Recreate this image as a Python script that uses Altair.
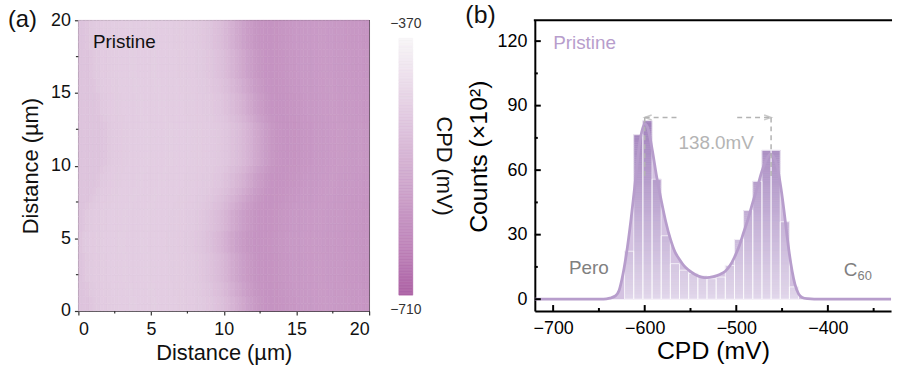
import altair as alt
import pandas as pd

FONT = "Liberation Sans"

# ---------------- (a) CPD map ----------------
MAP_COL_UM = 0.25      # column width of the map grid (µm)
MAP_ROW_UM = 0.5       # row height of the map grid (µm)
PROFILE_EDGE_UM = 10.0  # boundary position the row profile is written for

# CPD (mV) across one scan line, 0.25 µm per column
cpd_row_profile = [
    -484, -479, -474, -471, -469, -468, -467, -466,
    -465, -464, -463, -463, -462, -462, -463, -463,
    -464, -463, -462, -462, -463, -464, -464, -465,
    -465, -466, -466, -467, -468, -469, -470, -472,
    -474, -477, -481, -486, -492, -499, -507, -516,
    -526, -537, -549, -561, -573, -583, -591, -598,
    -603, -606, -608, -609, -608, -607, -605, -603,
    -601, -599, -597, -596, -595, -594, -593, -592,
    -592, -591, -591, -592, -593, -594, -595, -596,
    -597, -598, -600, -601, -602, -603, -604, -605,
]

# position of the Pero / C60 boundary on each scan line (µm), bottom to top
boundary_um = [
    10.4, 10.4, 10.3, 10.2, 10.1, 10.0, 9.9, 9.9,
    9.8, 9.8, 9.8, 9.9, 10.0, 10.1, 10.3, 10.5,
    10.7, 10.9, 11.1, 11.3, 11.4, 11.5, 11.6, 11.6,
    11.6, 11.5, 11.3, 11.1, 11.0, 10.9, 10.8, 10.7,
    10.6, 10.5, 10.4, 10.4, 10.3, 10.3, 10.2, 10.2,
]

cpd_stops = [-710, -650, -600, -540, -480, -430, -370]
cpd_colors = ["#ad62a5", "#bd82b8", "#c797c4", "#d3afd1",
              "#dfc6de", "#ebdcea", "#f7f5f7"]
map_ticks = [0, 5, 10, 15, 20]
map_minor = [2.5, 7.5, 12.5, 17.5]

# ---------------- (b) CPD histogram ----------------
bin_edges = list(range(-622, -431, 10))
counts = [22.3, 76.5, 83.0, 55.8, 29.5, 16.5, 13.5, 12.0, 10.8, 9.5,
          10.3, 15.7, 27.7, 41.2, 54.8, 69.2, 69.2, 36.0, 5.7]

fit_cpd = [-720, -645, -638, -632, -628, -625, -620, -615, -611, -605,
           -600, -597, -592, -587, -582, -577, -572, -567, -562, -557,
           -552, -545, -538, -532, -525, -518, -512, -507, -502, -497,
           -492, -487, -482, -477, -472, -467, -463, -459, -455, -451,
           -448, -445, -442, -439, -436, -432, -428, -422, -415, -331]
fit_counts = [0, 0, 0.5, 1.5, 4, 9, 21, 37, 52, 74,
              81.5, 80, 70, 57, 46, 36, 28, 22, 18.5, 15.5,
              13.5, 11.5, 10.3, 10, 10.5, 11.5, 13, 15.5, 19.5, 24.5,
              31, 37.5, 45, 52, 59.5, 65, 67.5, 66, 61, 51,
              41.5, 31, 21, 13, 7, 2.5, 0.8, 0.2, 0, 0]

peak_left = -600.0
peak_right = -462.0
guide_level = 84.5
guide_bottom = 57.0
cpd_ticks = [-700, -600, -500, -400]
cpd_minor = [-650, -550, -450, -350]
count_ticks = [0, 30, 60, 90, 120]
count_minor = [15, 45, 75, 105]

# ---------------- layout ----------------
W_A = 293
H = 293
W_BAR = 14
W_GAP = 63
W_B = 359

# ================= panel (a) =================
cells = []
n_cols = len(cpd_row_profile)
for r, b in enumerate(boundary_um):
    shift = round((b - PROFILE_EDGE_UM) / MAP_COL_UM)
    for c in range(n_cols):
        src = min(max(c - shift, 0), n_cols - 1)
        cells.append({
            "x0": c * MAP_COL_UM, "x1": (c + 1) * MAP_COL_UM,
            "y0": r * MAP_ROW_UM, "y1": (r + 1) * MAP_ROW_UM,
            "cpd": cpd_row_profile[src],
        })
map_df = pd.DataFrame(cells)

cscale = alt.Scale(domain=cpd_stops, range=cpd_colors, interpolate="rgb")
xa = alt.Scale(domain=[0, 20], nice=False)
ya = alt.Scale(domain=[0, 20], nice=False)

AX_A = dict(labelFontSize=18, titleFontSize=22, labelColor="#111",
            titleColor="#111", domainColor="#333", tickColor="#333",
            domainWidth=1.2, tickWidth=1.2, grid=False)

ax_xa = alt.Axis(values=map_ticks, format="d", title="Distance (µm)", orient="bottom",
                 tickSize=4, labelPadding=6, titlePadding=4, **AX_A)
ax_ya = alt.Axis(values=map_ticks, format="d", title="Distance (µm)", orient="left",
                 tickSize=4, labelPadding=4, titlePadding=8, **AX_A)

heat = alt.Chart(map_df).mark_rect(strokeWidth=0.6).encode(
    x=alt.X("x0:Q", scale=xa, axis=ax_xa),
    x2="x1:Q",
    y=alt.Y("y0:Q", scale=ya, axis=ax_ya),
    y2="y1:Q",
    color=alt.Color("cpd:Q", scale=cscale, legend=None),
    stroke=alt.Stroke("cpd:Q", scale=cscale, legend=None),
)

label_a = alt.Chart(pd.DataFrame({"x": [1.0], "y": [18.1], "t": ["Pristine"]})).mark_text(
    align="left", baseline="alphabetic", fontSize=19, color="#111"
).encode(
    x=alt.X("x:Q", scale=xa, axis=ax_xa),
    y=alt.Y("y:Q", scale=ya, axis=ax_ya),
    text="t:N",
)

# minor ticks (outward) between the labelled ones
MINOR_A = dict(color="#333", strokeWidth=1.2)
minor_xa = alt.Chart(pd.DataFrame({"v": map_minor})).mark_rule(**MINOR_A).encode(
    x=alt.X("v:Q", scale=xa, axis=ax_xa), y=alt.value(H), y2=alt.value(H + 2.5)
)
minor_ya = alt.Chart(pd.DataFrame({"v": map_minor})).mark_rule(**MINOR_A).encode(
    y=alt.Y("v:Q", scale=ya, axis=ax_ya), x=alt.value(0), x2=alt.value(-2.5)
)

panel_a = alt.layer(heat, label_a, minor_xa, minor_ya).properties(
    width=W_A, height=H,
    view=alt.ViewBackground(stroke="#333", strokeWidth=1.2),
    title=alt.TitleParams("(a)", anchor="start", frame="group", fontSize=24,
                          fontWeight="normal", color="#111", dx=-71, dy=25),
)

# ================= colour bar =================
bar_levels = list(range(cpd_stops[0], cpd_stops[-1], 2))
cbar_df = pd.DataFrame({
    "x0": [0.0] * len(bar_levels), "x1": [1.0] * len(bar_levels),
    "y0": bar_levels, "y1": [v + 2 for v in bar_levels],
    "mid": [v + 1 for v in bar_levels],
})
yc = alt.Scale(domain=[-731.0, -346.4], nice=False)
xc = alt.Scale(domain=[0, 1], nice=False)

cbar = alt.Chart(cbar_df).mark_rect(strokeWidth=0.6).encode(
    x=alt.X("x0:Q", scale=xc, axis=None),
    x2="x1:Q",
    y=alt.Y("y0:Q", scale=yc, axis=alt.Axis(
        orient="right", title="CPD (mV)", titleAngle=90, titleFontSize=22,
        titleColor="#111", labels=False, ticks=False, domain=False,
        titlePadding=19, grid=False)),
    y2="y1:Q",
    color=alt.Color("mid:Q", scale=cscale, legend=None),
    stroke=alt.Stroke("mid:Q", scale=cscale, legend=None),
)

cbar_labels = alt.Chart(pd.DataFrame({
    "x": [0.5, 0.5],
    "y": [-351.6, -729.7],
    "t": ["\u2212" + str(abs(cpd_stops[-1])), "\u2212" + str(abs(cpd_stops[0]))],
})).mark_text(align="center", baseline="middle", fontSize=14, color="#333").encode(
    x=alt.X("x:Q", scale=xc, axis=None),
    y=alt.Y("y:Q", scale=yc),
    text="t:N",
)

panel_bar = alt.layer(cbar, cbar_labels).properties(width=W_BAR, height=H)

spacer = alt.Chart(pd.DataFrame({"v": [0]})).mark_point(opacity=0).encode(
    x=alt.X("v:Q", axis=None), y=alt.Y("v:Q", axis=None)
).properties(width=W_GAP, height=H)

# ================= panel (b) =================
xb = alt.Scale(domain=[-720, -331], nice=False)
yb = alt.Scale(domain=[-5.5, 129.7], nice=False)

AX_B = dict(labelFontSize=18, titleFontSize=25, labelColor="#000",
            titleColor="#000", domainColor="#000", domainWidth=2,
            ticks=False, grid=False)
ax_xb = alt.Axis(values=cpd_ticks, format="d", title="CPD (mV)", orient="bottom",
                 labelPadding=9, titlePadding=1, **AX_B)
ax_yb = alt.Axis(values=count_ticks, format="d", title="Counts (×10²)", orient="left",
                 labelPadding=8, titlePadding=6, titleY=137, **AX_B)

fit_df = pd.DataFrame({"cpd": fit_cpd, "n": fit_counts})

slices = []
for i, n in enumerate(counts):
    lo = 0.0
    while lo < n:
        hi = min(lo + 1.0, n)
        slices.append({"x0": bin_edges[i], "x1": bin_edges[i + 1],
                       "c0": lo, "c1": hi, "shade": (lo + hi) / 2})
        lo = hi
slice_df = pd.DataFrame(slices)
bars_df = pd.DataFrame({"x0": bin_edges[:-1], "x1": bin_edges[1:], "n": counts})
shade_scale = alt.Scale(domain=[0, 85], range=["#e2d8eb", "#a080bb"])

area = alt.Chart(fit_df).mark_area(color="#d4c2e1", interpolate="monotone").encode(
    x=alt.X("cpd:Q", scale=xb, axis=ax_xb),
    y=alt.Y("n:Q", scale=yb, axis=ax_yb),
)

bar_fill = alt.Chart(slice_df).mark_rect(strokeWidth=0.5).encode(
    x=alt.X("x0:Q", scale=xb, axis=ax_xb), x2="x1:Q",
    y=alt.Y("c0:Q", scale=yb, axis=ax_yb), y2="c1:Q",
    color=alt.Color("shade:Q", scale=shade_scale, legend=None),
    stroke=alt.Stroke("shade:Q", scale=shade_scale, legend=None),
)

bar_edges = alt.Chart(bars_df).mark_rect(
    fillOpacity=0, stroke="#ffffff", strokeWidth=0.9, strokeOpacity=0.8
).encode(
    x=alt.X("x0:Q", scale=xb, axis=ax_xb), x2="x1:Q",
    y=alt.Y("n:Q", scale=yb, axis=ax_yb), y2=alt.datum(0),
)

fit_line = alt.Chart(fit_df).mark_line(
    color="#b79dcc", strokeWidth=2.8, interpolate="monotone"
).encode(
    x=alt.X("cpd:Q", scale=xb, axis=ax_xb),
    y=alt.Y("n:Q", scale=yb, axis=ax_yb),
)

GUIDE = dict(color="#b3b3b3", strokeWidth=1.5, strokeDash=[5, 4])
vguides = alt.Chart(pd.DataFrame({
    "x": [peak_left, peak_right], "y": [guide_level] * 2, "y2": [guide_bottom] * 2
})).mark_rule(**GUIDE).encode(
    x=alt.X("x:Q", scale=xb, axis=ax_xb),
    y=alt.Y("y:Q", scale=yb, axis=ax_yb), y2="y2:Q",
)
hguides = alt.Chart(pd.DataFrame({
    "x": [peak_left, -499.0], "x2": [-565.0, peak_right], "y": [guide_level] * 2
})).mark_rule(**GUIDE).encode(
    x=alt.X("x:Q", scale=xb, axis=ax_xb), x2="x2:Q",
    y=alt.Y("y:Q", scale=yb, axis=ax_yb),
)
ARROW = dict(filled=False, stroke="#b3b3b3", strokeWidth=1.5, size=49)
arrow_l = alt.Chart(pd.DataFrame({"x": [peak_left], "y": [guide_level]})).mark_point(
    shape="M2,-0.7L0,0L2,0.7", **ARROW
).encode(x=alt.X("x:Q", scale=xb, axis=ax_xb), y=alt.Y("y:Q", scale=yb, axis=ax_yb))
arrow_r = alt.Chart(pd.DataFrame({"x": [peak_right], "y": [guide_level]})).mark_point(
    shape="M-2,-0.7L0,0L-2,0.7", **ARROW
).encode(x=alt.X("x:Q", scale=xb, axis=ax_xb), y=alt.Y("y:Q", scale=yb, axis=ax_yb))


def note(x, y, text, size, color, align="left", baseline="alphabetic"):
    return alt.Chart(pd.DataFrame({"x": [x], "y": [y], "t": [text]})).mark_text(
        align=align, baseline=baseline, fontSize=size, color=color
    ).encode(
        x=alt.X("x:Q", scale=xb, axis=ax_xb),
        y=alt.Y("y:Q", scale=yb, axis=ax_yb),
        text="t:N",
    )


split = f"{peak_right - peak_left:.1f}mV"
notes = [
    note(-522, 72.5, split, 19, "#b4b4b4", align="center", baseline="middle"),
    note(-661, 11.5, "Pero", 19, "#808080", align="center"),
    note(-382.7, 10.8, "C", 19, "#808080"),
    note(-367.5, 9.0, "60", 13, "#808080"),
    note(-700, 116.3, "Pristine", 19, "#b79dcc"),
]

# inward ticks on the bottom and left axes
TICK_B = dict(color="#000", strokeWidth=2)
ticks_xb = alt.Chart(pd.DataFrame({"v": cpd_ticks})).mark_rule(**TICK_B).encode(
    x=alt.X("v:Q", scale=xb, axis=ax_xb), y=alt.value(H), y2=alt.value(H - 6)
)
minor_xb = alt.Chart(pd.DataFrame({"v": cpd_minor})).mark_rule(**TICK_B).encode(
    x=alt.X("v:Q", scale=xb, axis=ax_xb), y=alt.value(H), y2=alt.value(H - 3)
)
ticks_yb = alt.Chart(pd.DataFrame({"v": count_ticks})).mark_rule(**TICK_B).encode(
    y=alt.Y("v:Q", scale=yb, axis=ax_yb), x=alt.value(0), x2=alt.value(6)
)
minor_yb = alt.Chart(pd.DataFrame({"v": count_minor})).mark_rule(**TICK_B).encode(
    y=alt.Y("v:Q", scale=yb, axis=ax_yb), x=alt.value(0), x2=alt.value(3)
)

top_edge = alt.Chart(pd.DataFrame({"v": [0]})).mark_rule(
    color="#000", strokeWidth=2, strokeCap="square"
).encode(x=alt.value(0), x2=alt.value(W_B), y=alt.value(0))

panel_b = alt.layer(
    area, bar_fill, bar_edges, fit_line, vguides, hguides, arrow_l, arrow_r,
    *notes, ticks_xb, minor_xb, ticks_yb, minor_yb, top_edge
).properties(
    width=W_B, height=H,
    title=alt.TitleParams("(b)", anchor="start", frame="group", fontSize=25,
                          fontWeight="normal", color="#111", dx=-70, dy=13),
)

chart = alt.hconcat(panel_a, panel_bar, spacer, panel_b, spacing=30, bounds="flush").resolve_scale(
    color="independent", stroke="independent"
).properties(
    padding={"left": 7, "top": 1, "right": 0, "bottom": 0}
).configure_view(stroke=None).configure_axis(
    labelFont=FONT, titleFont=FONT, titleFontWeight="normal"
).configure_text(font=FONT).configure_title(font=FONT)

chart.save("out.html", embed_options={"renderer": "svg", "actions": False})
